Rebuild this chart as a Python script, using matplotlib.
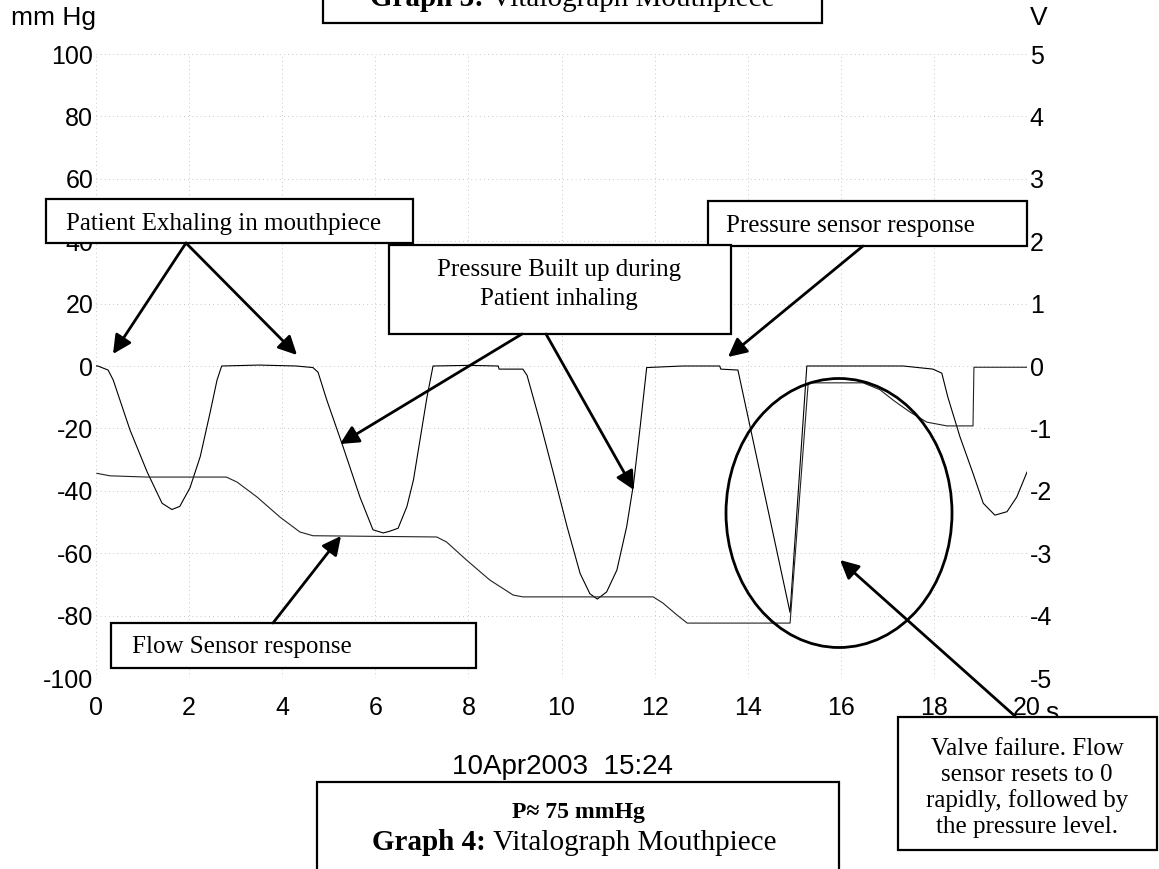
import matplotlib
matplotlib.use('Agg')
import matplotlib.pyplot as plt
from matplotlib.patches import Rectangle, Ellipse, FancyArrowPatch

plt.rcParams['axes.unicode_minus'] = False

# pressure trace (mm Hg) vs time (s)
p_time = [0.0, 0.04, 0.26, 0.37, 0.73, 1.10, 1.42, 1.63, 1.80, 2.02, 2.24, 2.45, 2.60, 2.70,
          3.5, 4.3, 4.66, 4.77, 4.96, 5.31, 5.67, 5.95, 6.17, 6.30, 6.49, 6.68, 6.82, 6.96,
          7.11, 7.24, 8.0, 8.64, 8.66, 9.17, 9.26, 9.54, 9.82, 10.12, 10.40, 10.61, 10.77,
          10.97, 11.19, 11.40, 11.55, 11.69, 11.83, 12.6, 13.40, 13.42, 13.79, 14.91, 15.27,
          16.3, 17.34, 17.98, 18.17, 18.30, 18.56, 18.84, 19.06, 19.31, 19.57, 19.78, 20.0]
p_mmhg = [0.0, 0.0, -1.3, -4.5, -20.5, -34, -44, -46, -45, -39, -29, -15, -4.5, 0.0,
          0.3, 0.0, -0.5, -2, -11, -26, -42, -52.5, -53.5, -53, -52, -45, -36.5, -23.7,
          -10, 0.0, 0.2, 0.0, -1, -1, -3, -18, -34, -51.5, -66.5, -73, -74.7,
          -72.4, -65.4, -51.5, -37.5, -19.5, -0.5, 0, 0, -1, -1.3, -79, 0,
          0, 0, -1, -2.3, -10, -22.7, -34.4, -44, -47.8, -46.7, -42, -34]

# flow sensor trace (V) vs time (s)
f_time = [0.02, 0.3, 1.1, 2.8, 3.03, 3.46, 3.95, 4.38, 4.66, 7.32, 7.53, 7.96, 8.46, 8.96,
          9.17, 11.97, 12.18, 12.48, 12.7, 14.91, 15.30, 16.48, 16.84, 17.13, 17.49, 17.85,
          18.28, 18.84, 18.86, 20.0]
f_volt = [-1.72, -1.76, -1.78, -1.78, -1.86, -2.1, -2.42, -2.66, -2.72, -2.74, -2.82, -3.11,
          -3.43, -3.67, -3.70, -3.70, -3.8, -3.99, -4.12, -4.12, -0.27, -0.27, -0.38, -0.55,
          -0.74, -0.9, -0.96, -0.96, -0.02, -0.02]

x_ticks = list(range(0, 21, 2))
y_ticks = list(range(-100, 101, 20))
v_ticks = list(range(-5, 6))

W, H = 1159, 869
sans = ['Liberation Sans', 'DejaVu Sans']
serif = ['Liberation Serif', 'DejaVu Serif']


def fx(x):
    return x / W


def fy(y):
    return 1 - y / H


fig = plt.figure(figsize=(W / 100, H / 100), dpi=100)
ax = fig.add_axes([fx(96), fy(678), (1027 - 96) / W, (678 - 54) / H])
ax2 = ax.twinx()

ax.plot(p_time, p_mmhg, color='black', lw=0.8)
ax2.plot(f_time, f_volt, color='#222222', lw=0.8)

ax.set_xlim(0, 20)
ax.set_ylim(-100, 100)
ax2.set_ylim(-5, 5)
ax.set_xticks(x_ticks)
ax.set_yticks(y_ticks)
ax2.set_yticks(v_ticks)
ax.grid(True, linestyle=(0, (1, 4)), color='#b5b5b5', lw=0.6)

for a in (ax, ax2):
    for s in a.spines.values():
        s.set_visible(False)
ax.tick_params(axis='x', length=0, pad=13, labelsize=18)
ax.tick_params(axis='y', length=0, pad=2, labelsize=18)
ax2.tick_params(axis='y', length=0, pad=2, labelsize=18)
for lab in ax.get_xticklabels() + ax.get_yticklabels() + ax2.get_yticklabels():
    lab.set_family(sans)

fig.text(fx(96), fy(18), 'mm Hg', ha='right', va='center', fontsize=19, family=sans)
fig.text(fx(1030), fy(18), 'V', ha='left', va='center', fontsize=19, family=sans)
# unit label, mostly hidden under the valve-failure box as in the scan
fig.text(fx(1045), fy(720), 's', ha='left', va='baseline', fontsize=19, family=sans, zorder=2)
fig.text(fx(563), fy(767), '10Apr2003  15:24', ha='center', va='center', fontsize=20, family=sans)


def box(x0, y0, x1, y1):
    fig.add_artist(Rectangle((fx(x0), fy(y1)), (x1 - x0) / W, (y1 - y0) / H,
                             transform=fig.transFigure, fc='white', ec='black',
                             lw=1.6, zorder=3))


def arrow(x0, y0, x1, y1):
    fig.add_artist(FancyArrowPatch((fx(x0), fy(y0)), (fx(x1), fy(y1)),
                                   transform=fig.transFigure, arrowstyle='-|>',
                                   mutation_scale=28, lw=2, color='black',
                                   shrinkA=0, shrinkB=0, zorder=3.5))


def label(x, y, s, **kw):
    kw.setdefault('fontsize', 18)
    kw.setdefault('va', 'center')
    fig.text(fx(x), fy(y), s, family=serif, zorder=4, **kw)


# top (cut off) caption box
box(323, -10, 822, 23)
label(484, 6, 'Graph 3:', ha='right', va='baseline', fontsize=21, weight='bold')
label(491, 6, 'Vitalograph Mouthpiece', ha='left', va='baseline', fontsize=21)

# callouts
box(46, 199, 413, 243)
label(66, 224, 'Patient Exhaling in mouthpiece', ha='left')
arrow(186, 243, 113, 354)
arrow(186, 243, 297, 355)

box(708, 201, 1027, 246)
label(726, 226, 'Pressure sensor response', ha='left')
arrow(863, 246, 728, 357)

box(389, 245, 731, 334)
label(559, 270, 'Pressure Built up during', ha='center')
label(559, 299, 'Patient inhaling', ha='center')
arrow(522, 334, 340, 444)
arrow(546, 334, 634, 490)

box(111, 623, 476, 668)
label(132, 647, 'Flow Sensor response', ha='left')
arrow(273, 623, 341, 536)

fig.add_artist(Ellipse((fx(839), fy(513)), 226 / W, 269 / H, transform=fig.transFigure,
                       fill=False, ec='black', lw=2, zorder=3))

box(898, 717, 1157, 850)
label(1027, 788, 'Valve failure. Flow\nsensor resets to 0\nrapidly, followed by\nthe pressure level.',
      ha='center', multialignment='center', linespacing=1.2)
arrow(1016, 717, 840, 560)

# bottom caption box
box(317, 782, 839, 880)
label(578, 818, 'P\u2248 75 mmHg', ha='center', va='baseline', fontsize=17, weight='bold')
label(486, 850, 'Graph 4:', ha='right', va='baseline', fontsize=21, weight='bold')
label(493, 850, 'Vitalograph Mouthpiece', ha='left', va='baseline', fontsize=21)

fig.savefig('out.png', dpi=100)
